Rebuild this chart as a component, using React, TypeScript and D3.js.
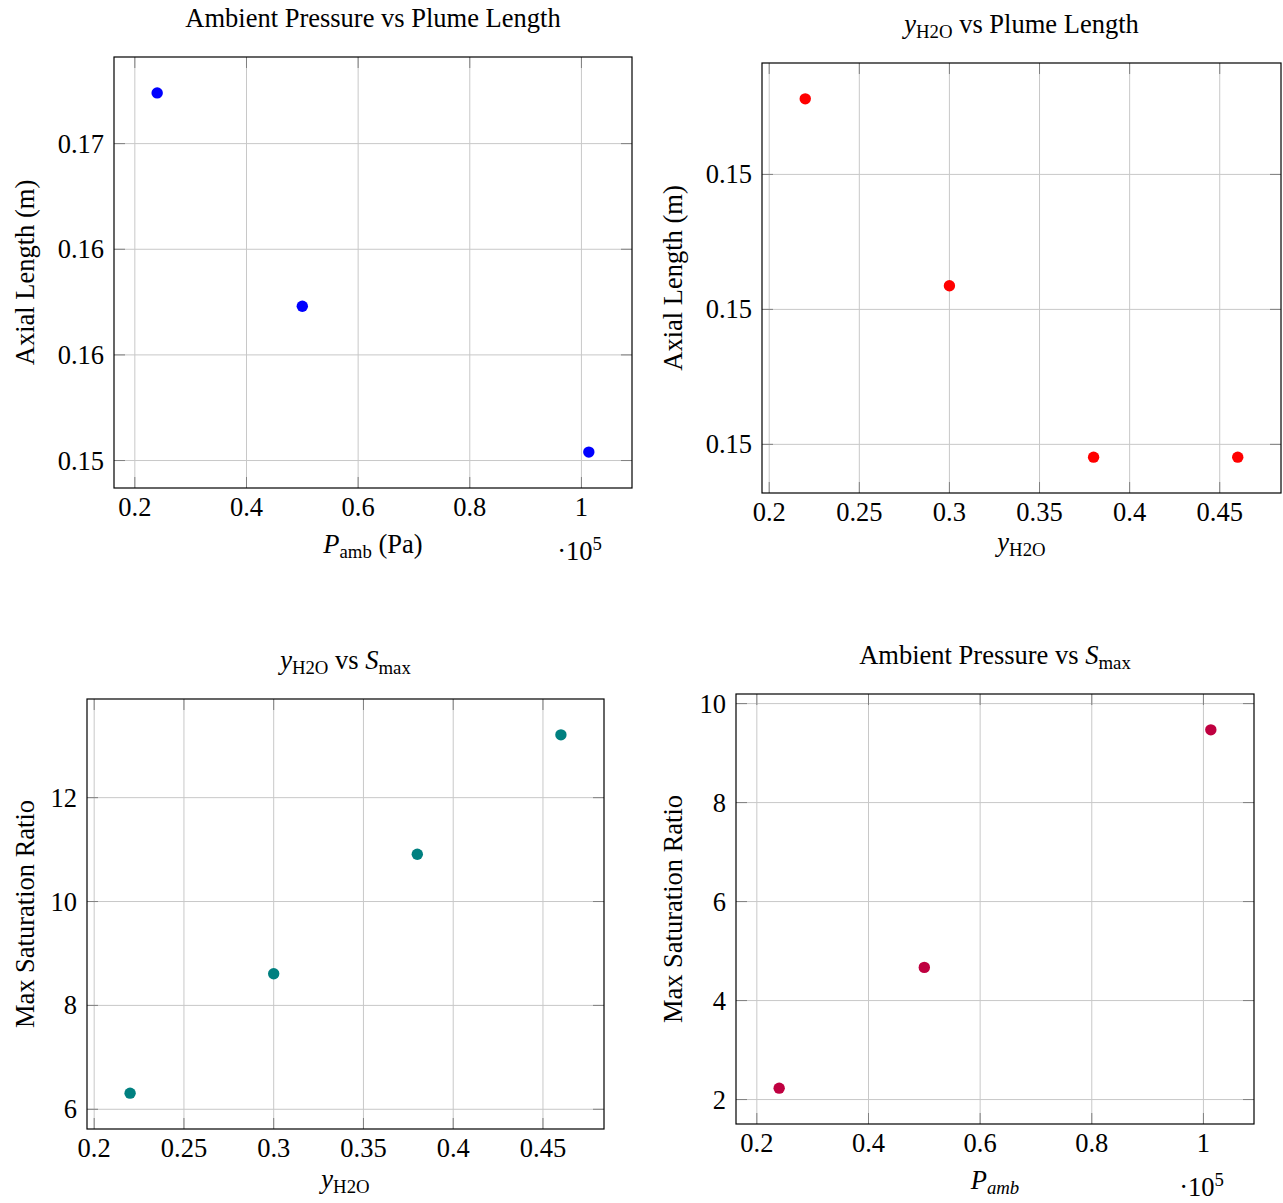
import React from "react";
import * as d3 from "d3";

// ---------- data ----------
const pressureA = [0.24, 0.5, 1.01325]; // x 10^5 Pa
const plumeLengthA = [0.1724, 0.1623, 0.1554];
const yH2OB = [0.22, 0.3, 0.38, 0.46];
const plumeLengthB = [0.15312, 0.15035, 0.14781, 0.14781];
const yH2OC = [0.22, 0.3, 0.38, 0.46];
const smaxC = [6.31, 8.61, 10.91, 13.21];
const pressureD = [0.24, 0.5, 1.01325];
const smaxD = [2.23, 4.67, 9.47];

const pressureTicks = [0.2, 0.4, 0.6, 0.8, 1.0];
const pressureTickLabels = ["0.2", "0.4", "0.6", "0.8", "1"];
const yH2OTicks = [0.2, 0.25, 0.3, 0.35, 0.4, 0.45];
const yH2OTickLabels = ["0.2", "0.25", "0.3", "0.35", "0.4", "0.45"];
const plumeTicksA = [0.155, 0.16, 0.165, 0.17];
const plumeTickLabelsA = ["0.15", "0.16", "0.16", "0.17"];
const plumeTicksB = [0.148, 0.15, 0.152];
const plumeTickLabelsB = ["0.15", "0.15", "0.15"];
const smaxTicksC = [6, 8, 10, 12];
const smaxTickLabelsC = ["6", "8", "10", "12"];
const smaxTicksD = [2, 4, 6, 8, 10];
const smaxTickLabelsD = ["2", "4", "6", "8", "10"];

type Seg = { t: string; it?: boolean; sub?: boolean; sup?: boolean };

const FONT = "'Liberation Serif', 'Times New Roman', serif";
const FS = 26.5;
const SFS = 18.8;

function Rich({ segs, x, y, anchor = "middle", transform }: { segs: Seg[]; x: number; y: number; anchor?: string; transform?: string }) {
  let cur = 0;
  const spans = segs.map((s, i) => {
    const target = s.sub ? 4.5 : s.sup ? -10 : 0;
    const dy = target - cur;
    cur = target;
    return (
      <tspan key={i} dy={dy} fontStyle={s.it ? "italic" : "normal"} fontSize={s.sub || s.sup ? SFS : FS}>
        {s.t}
      </tspan>
    );
  });
  return (
    <text x={x} y={y} textAnchor={anchor} fontFamily={FONT} fontSize={FS} fill="#000" transform={transform}>
      {spans}
    </text>
  );
}

const enlarge = (v: number[]) => {
  const [a, b] = d3.extent(v) as [number, number];
  const r = b - a;
  return [a - 0.1 * r, b + 0.1 * r];
};

type PanelProps = {
  x0: number; y0: number; w: number; h: number;
  xs: number[]; ys: number[]; color: string;
  xTicks: number[]; xTickLabels: string[];
  yTicks: number[]; yTickLabels: string[];
  title: Seg[]; xLabel: Seg[]; yLabel: string;
  xLabelOff: number; yLabelOff: number; multiplier?: boolean;
};

function Panel(p: PanelProps) {
  const xScale = d3.scaleLinear().domain(enlarge(p.xs)).range([p.x0, p.x0 + p.w]);
  const yScale = d3.scaleLinear().domain(enlarge(p.ys)).range([p.y0 + p.h, p.y0]);
  const L = 11;
  const gridC = "#c8c8c8";
  const tickC = "#808080";
  const bottom = p.y0 + p.h;
  const right = p.x0 + p.w;
  return (
    <g>
      {p.xTicks.map((t, i) => (
        <line key={"gx" + i} x1={xScale(t)} x2={xScale(t)} y1={p.y0} y2={bottom} stroke={gridC} strokeWidth={1} />
      ))}
      {p.yTicks.map((t, i) => (
        <line key={"gy" + i} x1={p.x0} x2={right} y1={yScale(t)} y2={yScale(t)} stroke={gridC} strokeWidth={1} />
      ))}
      {p.xTicks.map((t, i) => (
        <g key={"tx" + i}>
          <line x1={xScale(t)} x2={xScale(t)} y1={bottom} y2={bottom - L} stroke={tickC} strokeWidth={1} />
          <line x1={xScale(t)} x2={xScale(t)} y1={p.y0} y2={p.y0 + L} stroke={tickC} strokeWidth={1} />
        </g>
      ))}
      {p.yTicks.map((t, i) => (
        <g key={"ty" + i}>
          <line x1={p.x0} x2={p.x0 + L} y1={yScale(t)} y2={yScale(t)} stroke={tickC} strokeWidth={1} />
          <line x1={right} x2={right - L} y1={yScale(t)} y2={yScale(t)} stroke={tickC} strokeWidth={1} />
        </g>
      ))}
      <rect x={p.x0} y={p.y0} width={p.w} height={p.h} fill="none" stroke="#000" strokeWidth={1.2} />
      {p.xs.map((v, i) => (
        <circle key={"pt" + i} cx={xScale(v)} cy={yScale(p.ys[i])} r={5.7} fill={p.color} />
      ))}
      {p.xTicks.map((t, i) => (
        <text key={"xl" + i} x={xScale(t)} y={bottom + 28} textAnchor="middle" fontFamily={FONT} fontSize={FS}>
          {p.xTickLabels[i]}
        </text>
      ))}
      {p.yTicks.map((t, i) => (
        <text key={"yl" + i} x={p.x0 - 10} y={yScale(t) + 9} textAnchor="end" fontFamily={FONT} fontSize={FS}>
          {p.yTickLabels[i]}
        </text>
      ))}
      <Rich segs={p.title} x={p.x0 + p.w / 2} y={p.y0 - 30} />
      <Rich segs={p.xLabel} x={p.x0 + p.w / 2} y={bottom + p.xLabelOff} />
      <text
        x={0}
        y={0}
        transform={`translate(${p.x0 - p.yLabelOff},${p.y0 + p.h / 2}) rotate(-90)`}
        textAnchor="middle"
        fontFamily={FONT}
        fontSize={FS}
      >
        {p.yLabel}
      </text>
      {p.multiplier && (
        <Rich segs={[{ t: "·10" }, { t: "5", sup: true }]} x={right - 30} y={bottom + 72} anchor="end" />
      )}
    </g>
  );
}

const yH2OSeg: Seg[] = [{ t: "y", it: true }, { t: "H2O", sub: true }];
const smaxSeg: Seg[] = [{ t: "S", it: true }, { t: "max", sub: true }];

export default function App() {
  return (
    <svg width={1283} height={1203} style={{ position: "absolute", left: 0, top: 0, background: "#fff" }}>
      <rect x={0} y={0} width={1283} height={1203} fill="#fff" />
      <Panel
        x0={114} y0={57} w={518} h={431}
        xs={pressureA} ys={plumeLengthA} color="#0000ff"
        xTicks={pressureTicks} xTickLabels={pressureTickLabels}
        yTicks={plumeTicksA} yTickLabels={plumeTickLabelsA}
        title={[{ t: "Ambient Pressure vs Plume Length" }]}
        xLabel={[{ t: "P", it: true }, { t: "amb", sub: true }, { t: " (Pa)" }]}
        yLabel="Axial Length (m)"
        xLabelOff={65} yLabelOff={80} multiplier
      />
      <Panel
        x0={762} y0={63} w={519} h={430}
        xs={yH2OB} ys={plumeLengthB} color="#ff0000"
        xTicks={yH2OTicks} xTickLabels={yH2OTickLabels}
        yTicks={plumeTicksB} yTickLabels={plumeTickLabelsB}
        title={[...yH2OSeg, { t: " vs Plume Length" }]}
        xLabel={yH2OSeg}
        yLabel="Axial Length (m)"
        xLabelOff={58} yLabelOff={80}
      />
      <Panel
        x0={87} y0={699} w={517} h={430}
        xs={yH2OC} ys={smaxC} color="#008080"
        xTicks={yH2OTicks} xTickLabels={yH2OTickLabels}
        yTicks={smaxTicksC} yTickLabels={smaxTickLabelsC}
        title={[...yH2OSeg, { t: " vs " }, ...smaxSeg]}
        xLabel={yH2OSeg}
        yLabel="Max Saturation Ratio"
        xLabelOff={59} yLabelOff={53}
      />
      <Panel
        x0={736} y0={694} w={518} h={430}
        xs={pressureD} ys={smaxD} color="#bf0040"
        xTicks={pressureTicks} xTickLabels={pressureTickLabels}
        yTicks={smaxTicksD} yTickLabels={smaxTickLabelsD}
        title={[{ t: "Ambient Pressure vs " }, ...smaxSeg]}
        xLabel={[{ t: "P", it: true }, { t: "amb", sub: true, it: true }]}
        yLabel="Max Saturation Ratio"
        xLabelOff={65} yLabelOff={54} multiplier
      />
    </svg>
  );
}
